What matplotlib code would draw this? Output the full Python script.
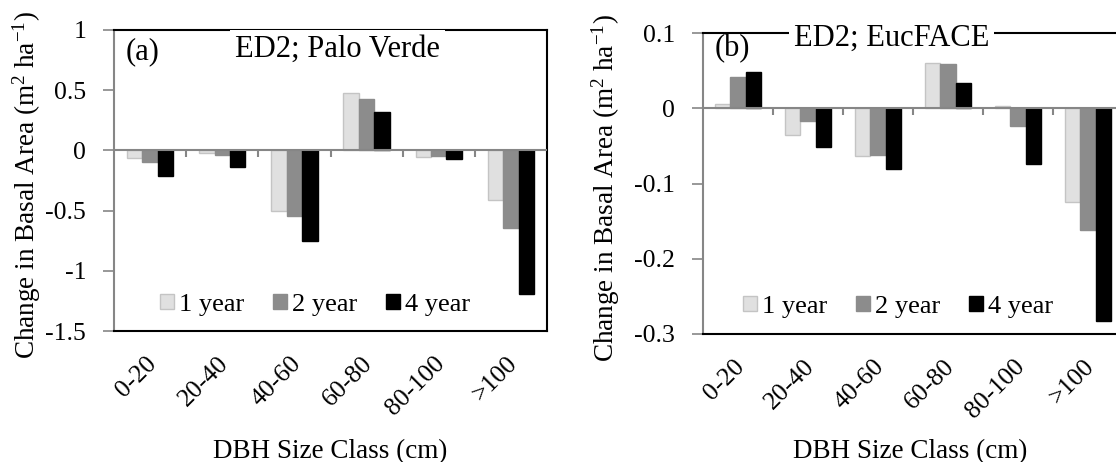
import matplotlib
matplotlib.use("Agg")
import matplotlib.pyplot as plt
import matplotlib.transforms as mtransforms
import numpy as np

plt.rcParams['font.family'] = ['Liberation Serif', 'DejaVu Serif']
plt.rcParams['mathtext.fontset'] = 'custom'
plt.rcParams['mathtext.rm'] = 'Liberation Serif'
plt.rcParams['mathtext.it'] = 'Liberation Serif:italic'
plt.rcParams['mathtext.bf'] = 'Liberation Serif:bold'

categories = ["0-20", "20-40", "40-60", "60-80", "80-100", ">100"]
series = ["1 year", "2 year", "4 year"]

# Panel (a) ED2; Palo Verde
pv_1yr = [-0.06, -0.02, -0.50, 0.48, -0.055, -0.41]
pv_2yr = [-0.10, -0.04, -0.545, 0.43, -0.05, -0.645]
pv_4yr = [-0.21, -0.14, -0.75, 0.32, -0.07, -1.19]

# Panel (b) ED2; EucFACE
ef_1yr = [0.005, -0.036, -0.063, 0.060, 0.003, -0.124]
ef_2yr = [0.041, -0.017, -0.062, 0.059, -0.024, -0.162]
ef_4yr = [0.048, -0.051, -0.081, 0.034, -0.074, -0.283]

pv_yticks = [1, 0.5, 0, -0.5, -1, -1.5]
pv_yticklabels = ["1", "0.5", "0", "-0.5", "-1", "-1.5"]
ef_yticks = [0.1, 0, -0.1, -0.2, -0.3]
ef_yticklabels = ["0.1", "0", "-0.1", "-0.2", "-0.3"]

fill_colors = ["#e0e0e0", "#8c8c8c", "#000000"]
edge_colors = ["#c4c4c4", "#8c8c8c", "#000000"]
axis_gray = "#868686"

W, H = 1116, 462
fig = plt.figure(figsize=(W / 100, H / 100), dpi=100)


def px_ax(l, t, r, b):
    return [l / W, 1 - b / H, (r - l) / W, (b - t) / H]


def draw_panel(ax, data, ylim, yticks, yticklabels, width):
    x = np.arange(len(categories))
    offs = [-width, 0, width]
    for i, vals in enumerate(data):
        ax.bar(x + offs[i], vals, width=width, color=fill_colors[i],
               edgecolor=edge_colors[i], linewidth=1.0, label=series[i], zorder=2)
    ax.set_xlim(-0.5, len(categories) - 0.5)
    ax.set_ylim(*ylim)
    ax.set_yticks(yticks)
    ax.set_yticklabels(yticklabels, fontsize=18.5)
    ax.tick_params(axis='y', direction='out', length=8, width=1.2, color=axis_gray, pad=12)
    ax.set_xticks(x)
    ax.set_xticklabels(categories, fontsize=18.5, rotation=45, ha='right', va='center',
                       rotation_mode='anchor')
    ax.tick_params(axis='x', length=0, pad=21)
    shift = mtransforms.ScaledTranslation(3 / 100, 0, fig.dpi_scale_trans)
    for lbl in ax.get_xticklabels():
        lbl.set_transform(lbl.get_transform() + shift)
    # zero axis line
    ax.axhline(0, color=axis_gray, lw=1.5, zorder=3)
    ax.spines['left'].set_color(axis_gray)
    ax.spines['left'].set_linewidth(1.5)
    for s in ['top', 'right', 'bottom']:
        ax.spines[s].set_color('black')
        ax.spines[s].set_linewidth(1.5)
    ax.set_zorder(1)


# Panel (a)
ax1 = fig.add_axes(px_ax(114, 30, 547, 331))
draw_panel(ax1, [pv_1yr, pv_2yr, pv_4yr], (-1.5, 1.0), pv_yticks, pv_yticklabels, 0.214)
# Panel (b)
ax2 = fig.add_axes(px_ax(703, 33, 1123, 334))
draw_panel(ax2, [ef_1yr, ef_2yr, ef_4yr], (-0.3, 0.1), ef_yticks, ef_yticklabels, 0.22)

# boundary tick marks below zero line (7 px long)
for ax, yspan, hpx in [(ax1, 2.5, 301), (ax2, 0.4, 301)]:
    tl = 7 * yspan / hpx
    for b in np.arange(0.5, len(categories) - 0.5, 1.0):
        ax.plot([b, b], [0, -tl], color=axis_gray, lw=1.5, zorder=3, solid_capstyle='butt')

# legends
for ax, lx, ly in [(ax1, 0.106, 0.086), (ax2, 0.095, 0.09)]:
    ax.legend(loc='center left', bbox_to_anchor=(lx, ly), ncol=3, frameon=False,
              fontsize=19, handlelength=0.52, handleheight=0.52, handletextpad=0.2,
              columnspacing=1.1, borderpad=0, borderaxespad=0)

# titles and panel letters
bbox = dict(facecolor='white', edgecolor='none', boxstyle='square,pad=0.15')
fig.text(337.5 / W, 1 - 57 / H, "ED2; Palo Verde", fontsize=22, ha='center', va='baseline',
         bbox=bbox, zorder=5)
fig.text(891.5 / W, 1 - 46 / H, "ED2; EucFACE", fontsize=22, ha='center', va='baseline',
         bbox=bbox, zorder=5)
fig.text(143 / W, 1 - 59 / H, "(a)", fontsize=22, ha='center', va='baseline', zorder=5)
fig.text(732 / W, 1 - 56 / H, "(b)", fontsize=22, ha='center', va='baseline', zorder=5)

# axis labels
ylab = "Change in Basal Area (m$^{2}$ ha$^{-1}$)"
fig.text(27 / W, 1 - 185 / H, ylab, fontsize=19.5, rotation=90, ha='center', va='center')
fig.text(606 / W, 1 - 188 / H, ylab, fontsize=19.5, rotation=90, ha='center', va='center')
fig.text(330.5 / W, 1 - 458 / H, "DBH Size Class (cm)", fontsize=19.5, ha='center', va='baseline')
fig.text(910 / W, 1 - 458 / H, "DBH Size Class (cm)", fontsize=19.5, ha='center', va='baseline')

fig.savefig("out.png", dpi=100)
